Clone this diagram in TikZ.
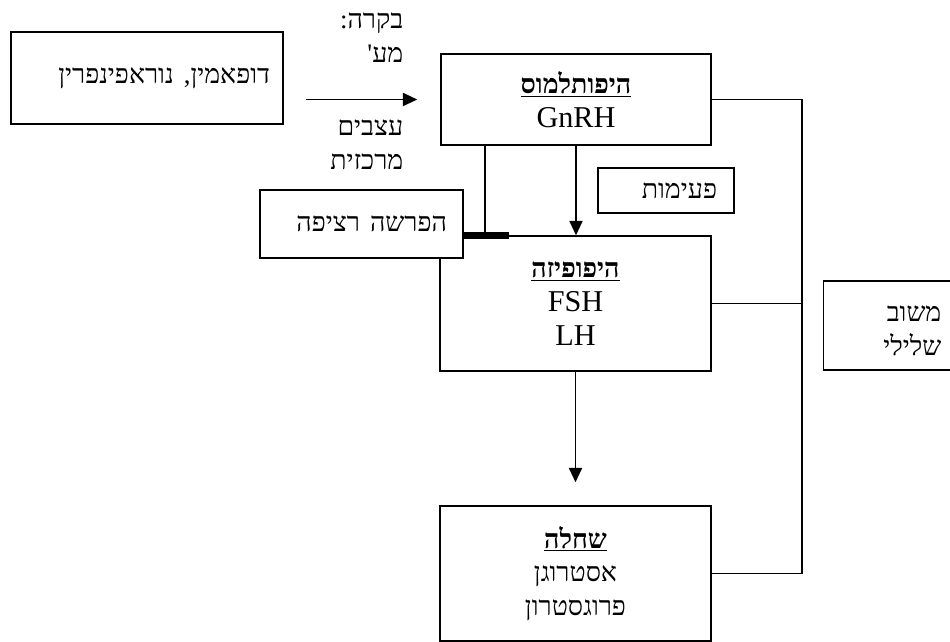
\documentclass[tikz,border=0pt]{standalone}
\usepackage{fontspec}
\setmainfont{Liberation Serif}
\newfontfamily\hebfont[Script=Hebrew,Scale=0.885]{Liberation Serif}
\TeXXeTstate=1
\newcommand{\heb}[1]{{\hebfont\beginR #1\endR}}
\usetikzlibrary{arrows.meta}

\begin{document}
\begin{tikzpicture}[x=0.025cm,y=-0.025cm,line width=1pt,>={Triangle[length=3.6mm,width=3.3mm]},
  box/.style={draw,fill=white,inner sep=0pt,align=center},
  every node/.style={font=\fontsize{21.5}{24}\selectfont}]
\useasboundingbox (0,0) rectangle (950,642);
\node[box,minimum width=6.8cm,minimum height=2.3cm,text width=6.15cm,align=right] (dop) at (147,78) {\heb{דופאמין, נוראפינפרין}};
\node[box,minimum width=6.75cm,minimum height=2.275cm] (hyp) at (576,99.5) {\underline{\heb{\textbf{היפותלמוס}}}\\GnRH};
\node[box,minimum width=6.775cm,minimum height=3.375cm] (pit) at (575.5,303.5) {\underline{\heb{\textbf{היפופיזה}}}\\FSH\\LH};
\node[box,minimum width=6.775cm,minimum height=3.375cm] (sha) at (575.5,573.5) {\underline{\heb{\textbf{שחלה}}}\\\heb{אסטרוגן}\\\heb{פרוגסטרון}};
\node[box,minimum width=5.075cm,minimum height=1.7cm,text width=4.275cm,align=right] (sec) at (361.5,224) {\heb{הפרשה רציפה}};
\node[box,minimum width=3.4cm,minimum height=1.125cm,text width=2.55cm,align=right] (puls) at (666,190.5) {\heb{פעימות}};
\node[box,minimum width=4cm,minimum height=2.225cm,anchor=west] (fb) at (823,325.5) {};
\node[anchor=east,align=right,inner sep=0pt] (fbtxt) at (942,331) {\heb{משוב}\\\heb{שלילי}};
\node[anchor=east,align=right,inner sep=0pt] (ctla) at (404,38) {\heb{בקרה:}\\\heb{מע'}};
\node[anchor=east,align=right,inner sep=0pt] (ctlb) at (404,145) {\heb{עצבים}\\\heb{מרכזית}};
% connectors
\draw[->,shorten <=0.55cm,shorten >=0.575cm] (dop.east |- hyp.west) -- (hyp.west);
\draw[->] (hyp.south) -- (hyp.south |- pit.north);
\draw[->,shorten >=0.575cm] (pit.south) -- (pit.south |- sha.north);
\coordinate (bus) at (802,100);
\draw (hyp.east) -- (hyp.east -| bus) |- (sha.east);
\draw (pit.east) -- (pit.east -| bus);
\coordinate (tap) at (485,236);
\draw (hyp.south -| tap) -- (tap);
\draw[line width=5pt] (sec.east |- pit.north) -- ++(45,0);
\end{tikzpicture}
\end{document}
